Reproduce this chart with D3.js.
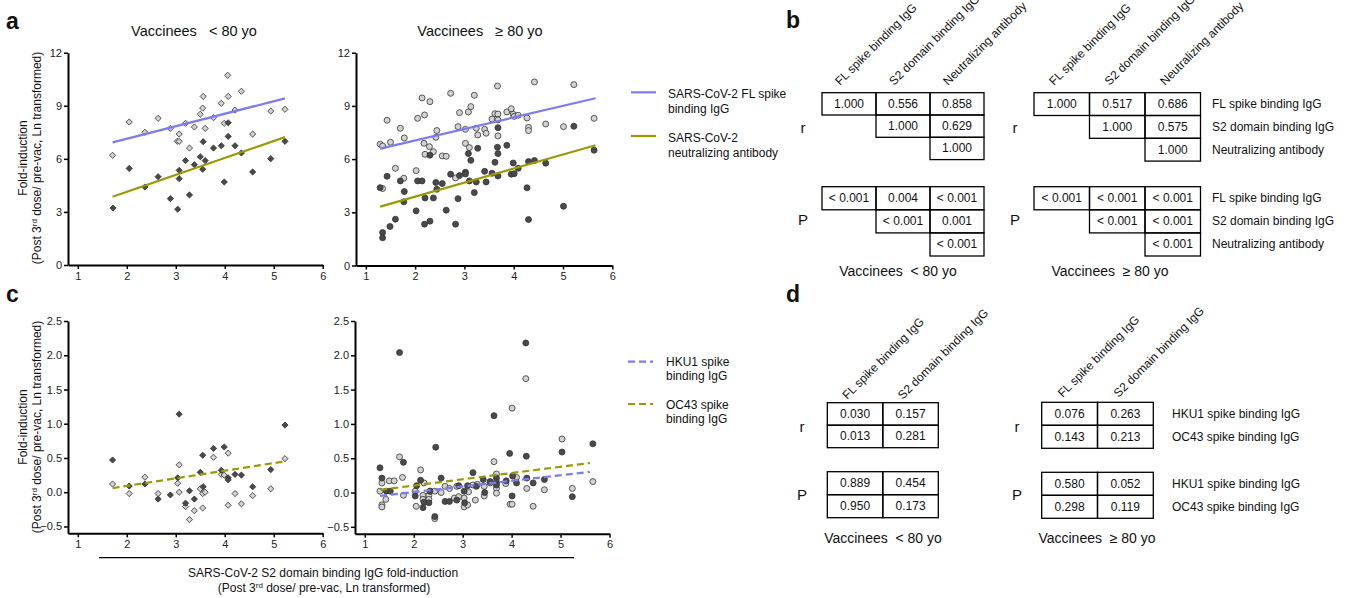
<!DOCTYPE html>
<head>
  <meta charset="utf-8">
  <script src="https://d3js.org/d3.v7.min.js"></script>
  <style>
    body { margin:0; background:#fff; }
    svg { font-family: "Liberation Sans", Arial, sans-serif; }
    text { white-space: pre; }
    .axis .domain { stroke:#000; stroke-width:2; }
    .axis .tick line { stroke:#000; stroke-width:1.5; }
    .axis .tick text { font-size:11px; fill:#222; font-family:"Liberation Sans", Arial, sans-serif; }
  </style>
</head>
<body>
  <svg width="1353" height="598"></svg>
  <script>
    var xTicks = [1, 2, 3, 4, 5, 6];
    var yTicksA = [0, 3, 6, 9, 12];
    var yTicksC = [-0.5, 0, 0.5, 1, 1.5, 2, 2.5];

    // panel a, vaccinees < 80 (x = S2 fold-induction)
    var youngFL = [[1.71,6.20],[2.05,8.08],[2.37,7.50],[2.64,8.29],[2.89,7.72],[3.07,7.40],[3.03,6.99],[3.07,6.99],[3.20,8.01],[3.28,6.61],[3.38,7.80],[3.50,8.52],[3.55,8.87],[3.56,9.53],[3.60,7.72],[3.77,8.33],[3.93,9.14],[3.99,8.01],[4.07,9.53],[4.06,10.72],[4.21,8.76],[4.34,9.82],[4.57,7.40],[4.94,8.70],[5.23,8.80]];
    var youngNeut = [[1.72,3.22],[2.05,5.46],[2.37,4.41],[2.64,4.99],[2.89,3.75],[3.04,3.15],[3.07,4.88],[3.07,5.35],[3.20,5.90],[3.28,3.96],[3.38,5.67],[3.50,6.12],[3.56,6.97],[3.55,5.41],[3.60,5.90],[3.77,6.61],[3.93,6.74],[3.99,4.69],[4.07,8.04],[4.07,7.27],[4.21,6.74],[4.34,6.33],[4.57,5.26],[4.94,6.01],[5.23,6.99]];
    // panel a, vaccinees >= 80
    var oldFL = [[1.29,6.84],[1.34,6.74],[1.43,8.19],[1.50,6.95],[1.34,4.34],[1.60,5.48],[1.70,7.74],[1.78,7.19],[1.77,4.92],[2.02,5.35],[2.05,8.30],[2.14,9.45],[2.19,8.49],[2.18,6.89],[2.20,6.27],[2.30,9.24],[2.29,6.70],[2.37,6.42],[2.42,7.23],[2.44,7.61],[2.55,6.18],[2.63,6.16],[2.72,9.71],[2.82,4.94],[2.87,7.83],[2.90,8.62],[3.02,7.68],[3.02,6.89],[3.08,8.66],[3.10,6.65],[3.13,8.96],[3.20,9.60],[3.24,7.74],[3.27,7.36],[3.41,7.68],[3.44,7.46],[3.56,8.26],[3.62,8.56],[3.67,10.12],[3.68,8.54],[3.68,8.21],[3.68,7.31],[3.86,8.66],[3.95,8.84],[3.99,8.53],[4.01,8.41],[4.09,8.47],[4.27,8.32],[4.30,7.79],[4.30,7.61],[4.42,10.35],[4.65,7.98],[5.01,7.83],[5.22,10.20],[5.63,8.30]];
    var oldNeut = [[1.29,4.39],[1.34,1.86],[1.34,1.56],[1.43,5.03],[1.49,2.20],[1.60,2.61],[1.70,4.77],[1.78,4.17],[1.77,3.59],[2.02,3.08],[2.05,4.77],[2.14,4.77],[2.19,2.33],[2.20,3.81],[2.30,2.50],[2.30,6.22],[2.37,3.81],[2.42,4.68],[2.44,4.30],[2.55,4.62],[2.63,3.12],[2.72,5.15],[2.82,2.33],[2.87,3.77],[2.90,5.07],[3.02,5.26],[3.02,5.16],[3.08,6.31],[3.10,4.77],[3.13,5.93],[3.20,4.11],[3.24,4.71],[3.27,6.61],[3.41,5.31],[3.44,4.71],[3.56,5.20],[3.62,5.82],[3.67,6.67],[3.68,6.31],[3.68,7.77],[3.68,5.05],[3.86,6.78],[3.95,5.15],[3.99,5.78],[4.01,5.18],[4.09,5.48],[4.27,4.38],[4.30,5.86],[4.30,2.59],[4.42,5.92],[4.65,5.77],[5.01,3.34],[5.22,7.85],[5.63,6.50]];
    // panel c, vaccinees < 80
    var youngHKU1 = [[1.71,0.12],[2.05,-0.02],[2.37,0.22],[2.64,-0.02],[3.07,0.40],[3.04,0.13],[3.07,0.00],[3.20,-0.21],[3.28,-0.40],[3.38,-0.27],[3.50,0.05],[3.55,-0.02],[3.60,0.00],[3.55,-0.23],[3.77,0.51],[3.93,0.26],[3.99,0.25],[4.07,0.57],[4.07,-0.19],[4.21,-0.02],[4.34,-0.17],[4.57,-0.05],[4.94,0.05],[5.23,0.49]];
    var youngOC43 = [[1.71,0.47],[2.05,0.09],[2.37,0.12],[2.64,-0.10],[2.89,-0.04],[3.07,1.14],[3.04,0.21],[3.20,-0.16],[3.28,0.02],[3.38,-0.10],[3.50,0.29],[3.55,0.54],[3.56,0.08],[3.77,0.64],[3.99,0.66],[3.93,0.32],[4.07,0.21],[4.07,0.18],[4.21,0.26],[4.34,0.25],[4.57,0.08],[4.94,0.33],[5.23,0.98]];
    // panel c, vaccinees >= 80
    var oldHKU1 = [[1.31,0.02],[1.35,0.14],[1.35,-0.18],[1.35,-0.21],[1.43,-0.10],[1.50,0.17],[1.60,0.17],[1.71,0.52],[1.77,0.22],[1.79,-0.04],[2.03,0.02],[2.05,-0.20],[2.14,0.33],[2.21,0.14],[2.19,-0.04],[2.19,-0.10],[2.31,-0.04],[2.31,-0.10],[2.34,0.02],[2.43,0.02],[2.43,-0.38],[2.56,0.00],[2.64,0.09],[2.73,0.06],[2.83,-0.08],[2.88,0.09],[2.92,-0.06],[3.03,-0.08],[3.03,-0.21],[3.10,-0.18],[3.12,0.01],[3.21,0.11],[3.26,-0.11],[3.30,0.12],[3.44,-0.05],[3.44,0.09],[3.56,0.14],[3.64,0.45],[3.69,0.27],[3.69,0.06],[3.69,-0.01],[3.88,0.13],[3.97,-0.17],[4.01,1.23],[4.01,-0.17],[4.10,0.22],[4.29,1.66],[4.31,0.06],[4.44,-0.20],[4.67,0.04],[5.03,0.78],[5.24,0.06],[5.66,0.16]];
    var oldOC43 = [[1.31,0.36],[1.35,0.21],[1.44,0.02],[1.52,0.02],[1.71,2.04],[1.79,0.44],[2.03,-0.05],[2.06,0.10],[2.14,0.18],[2.19,-0.22],[2.21,-0.14],[2.31,-0.15],[2.33,0.02],[2.45,0.66],[2.43,-0.35],[2.56,0.21],[2.64,-0.13],[2.73,-0.13],[2.88,-0.11],[2.92,0.10],[3.03,0.02],[3.04,-0.15],[3.10,0.10],[3.21,0.29],[3.28,0.09],[3.42,0.19],[3.45,0.00],[3.56,0.16],[3.64,1.12],[3.69,0.21],[3.69,0.15],[3.69,0.11],[3.96,0.57],[3.89,0.17],[4.01,-0.05],[4.02,0.24],[4.10,0.14],[4.29,2.18],[4.30,0.53],[4.31,0.21],[4.44,0.14],[4.67,0.19],[5.03,0.59],[5.24,-0.06],[5.66,0.71]];

    // regression line end points
    var fitYoungFL = [[1.71,6.93],[5.23,9.42]];
    var fitYoungNeut = [[1.71,3.86],[5.23,7.23]];
    var fitOldFL = [[1.29,6.59],[5.66,9.43]];
    var fitOldNeut = [[1.29,3.32],[5.66,6.78]];
    var fitYoungOC43 = [[1.71,0.06],[5.23,0.45]];
    var fitOldHKU1 = [[1.31,-0.05],[5.60,0.30]];
    var fitOldOC43 = [[1.32,0.04],[5.60,0.43]];

    // correlation tables
    var bColLabels = ['FL spike binding IgG', 'S2 domain binding IgG', 'Neutralizing antibody'];
    var bYoungR = [['1.000','0.556','0.858'],[null,'1.000','0.629'],[null,null,'1.000']];
    var bYoungP = [['< 0.001','0.004','< 0.001'],[null,'< 0.001','0.001'],[null,null,'< 0.001']];
    var bOldR = [['1.000','0.517','0.686'],[null,'1.000','0.575'],[null,null,'1.000']];
    var bOldP = [['< 0.001','< 0.001','< 0.001'],[null,'< 0.001','< 0.001'],[null,null,'< 0.001']];
    var dColLabels = ['FL spike binding IgG', 'S2 domain binding IgG'];
    var dRowLabels = ['HKU1 spike binding IgG', 'OC43 spike binding IgG'];
    var dYoungR = [['0.030','0.157'],['0.013','0.281']];
    var dYoungP = [['0.889','0.454'],['0.950','0.173']];
    var dOldR = [['0.076','0.263'],['0.143','0.213']];
    var dOldP = [['0.580','0.052'],['0.298','0.119']];

    var blue = '#7b7cf4', olive = '#9a9a00';
    var lightFill = '#d2d2d2', darkFill = '#4a4a4a';

    var svg = d3.select('svg');

    function label(x, y, str, size, opts) {
      opts = opts || {};
      return svg.append('text')
        .attr('x', x).attr('y', y)
        .attr('font-size', size)
        .attr('font-weight', opts.bold ? 'bold' : null)
        .attr('text-anchor', opts.anchor || 'start')
        .attr('dominant-baseline', opts.baseline || null)
        .attr('fill', '#111')
        .text(str);
    }

    // text with a superscript "rd"
    function postLabel(g, x, y, anchor, rotate) {
      var t = g.append('text')
        .attr('x', x).attr('y', y)
        .attr('font-size', 12)
        .attr('fill', '#111')
        .attr('text-anchor', anchor);
      if (rotate) t.attr('transform', 'rotate(-90,' + x + ',' + y + ')');
      t.append('tspan').text('(Post 3');
      t.append('tspan').attr('dy', -4).attr('font-size', 8).text('rd');
      t.append('tspan').attr('dy', 4).text(' dose/ pre-vac, Ln transformed)');
    }

    function scatter(cfg) {
      var x = d3.scaleLinear().domain([0.8, 6]).range(cfg.xr);
      var y = d3.scaleLinear().domain(cfg.yd).range(cfg.yr);
      var g = svg.append('g');

      g.append('g').attr('class', 'axis')
        .attr('transform', 'translate(0,' + cfg.yr[0] + ')')
        .call(d3.axisBottom(x).tickValues(xTicks).tickSize(4).tickSizeOuter(0).tickPadding(3)
          .tickFormat(d3.format('d')));
      g.append('g').attr('class', 'axis')
        .attr('transform', 'translate(' + cfg.xr[0] + ',0)')
        .call(d3.axisLeft(y).tickValues(cfg.yTicks).tickSize(4).tickSizeOuter(0).tickPadding(2)
          .tickFormat(cfg.fmt));

      cfg.series.forEach(function(s) {
        var sel = g.append('g').selectAll('path').data(s.data).enter();
        if (s.shape === 'diamond') {
          sel.append('path')
            .attr('d', d3.symbol().type(d3.symbolSquare).size(19))
            .attr('transform', function(d) { return 'translate(' + x(d[0]) + ',' + y(d[1]) + ') rotate(45)'; })
            .attr('fill', s.fill).attr('stroke', '#333').attr('stroke-width', 0.8);
        } else {
          sel.append('circle')
            .attr('cx', function(d) { return x(d[0]); })
            .attr('cy', function(d) { return y(d[1]); })
            .attr('r', 3)
            .attr('fill', s.fill).attr('stroke', '#333').attr('stroke-width', 0.8);
        }
      });

      var line = d3.line().x(function(d) { return x(d[0]); }).y(function(d) { return y(d[1]); });
      cfg.fits.forEach(function(f) {
        g.append('path').attr('d', line(f.data))
          .attr('fill', 'none').attr('stroke', f.color).attr('stroke-width', 2.2)
          .attr('stroke-dasharray', f.dash ? '7,4' : null);
      });
    }

    var fmtInt = d3.format('d'), fmt1 = d3.format('.1f');

    scatter({ xr: [68, 322.7], yr: [265, 52.7], yd: [0, 12], yTicks: yTicksA, fmt: fmtInt,
      series: [{ data: youngFL, shape: 'diamond', fill: lightFill }, { data: youngNeut, shape: 'diamond', fill: darkFill }],
      fits: [{ data: fitYoungFL, color: blue }, { data: fitYoungNeut, color: olive }] });
    scatter({ xr: [356, 612.3], yr: [265.5, 52.7], yd: [0, 12], yTicks: yTicksA, fmt: fmtInt,
      series: [{ data: oldFL, shape: 'circle', fill: lightFill }, { data: oldNeut, shape: 'circle', fill: darkFill }],
      fits: [{ data: fitOldFL, color: blue }, { data: fitOldNeut, color: olive }] });
    scatter({ xr: [68, 322.7], yr: [533.3, 321], yd: [-0.6, 2.5], yTicks: yTicksC, fmt: fmt1,
      series: [{ data: youngHKU1, shape: 'diamond', fill: lightFill }, { data: youngOC43, shape: 'diamond', fill: darkFill }],
      fits: [{ data: fitYoungOC43, color: olive, dash: true }] });
    scatter({ xr: [355, 609.5], yr: [533.7, 321], yd: [-0.6, 2.5], yTicks: yTicksC, fmt: fmt1,
      series: [{ data: oldHKU1, shape: 'circle', fill: lightFill }, { data: oldOC43, shape: 'circle', fill: darkFill }],
      fits: [{ data: fitOldHKU1, color: blue, dash: true }, { data: fitOldOC43, color: olive, dash: true }] });

    // panel letters
    label(6, 29, 'a', 23, { bold: true });
    label(6, 302, 'c', 23, { bold: true });
    label(786, 28, 'b', 23, { bold: true });
    label(786, 302, 'd', 23, { bold: true });

    // titles
    label(194, 36, 'Vaccinees   < 80 yo', 14.5, { anchor: 'middle' });
    label(480, 36, 'Vaccinees   \u2265 80 yo', 14.5, { anchor: 'middle' });

    // y labels
    [[158, 27, 41], [427, 27, 41]].forEach(function(p) {
      svg.append('text').attr('x', p[1]).attr('y', p[0])
        .attr('transform', 'rotate(-90,' + p[1] + ',' + p[0] + ')')
        .attr('font-size', 12).attr('fill', '#111').attr('text-anchor', 'middle')
        .text('Fold-induction');
      postLabel(svg, p[2], p[0], 'middle', true);
    });

    // shared x label under panel c
    svg.append('line').attr('x1', 99).attr('x2', 574).attr('y1', 557.7).attr('y2', 557.7)
      .attr('stroke', '#000').attr('stroke-width', 1.3);
    label(323, 577, 'SARS-CoV-2 S2 domain binding IgG fold-induction', 12, { anchor: 'middle' });
    postLabel(svg, 324, 592, 'middle', false);

    // legends
    function legendItem(y, color, dash, lines, x1, x2, tx, ty, lh) {
      svg.append('line').attr('x1', x1).attr('x2', x2).attr('y1', y).attr('y2', y)
        .attr('stroke', color).attr('stroke-width', 2.2).attr('stroke-dasharray', dash ? '7,4' : null);
      lines.forEach(function(s, i) { label(tx, ty + i * lh, s, 12); });
    }
    legendItem(92.3, blue, false, ['SARS-CoV-2 FL spike', 'binding IgG'], 631, 656, 668, 98, 15);
    legendItem(136, olive, false, ['SARS-CoV-2', 'neutralizing antibody'], 631, 656, 668, 141.5, 15);
    legendItem(361.7, blue, true, ['HKU1 spike', 'binding IgG'], 628, 653, 666, 366, 14);
    legendItem(404, olive, true, ['OC43 spike', 'binding IgG'], 628, 653, 666, 409, 14);

    // tables
    function table(cells, x0, colW, y0, rowH) {
      var nR = cells.length, nC = cells[0].length;
      var xb = d3.scaleBand().domain(d3.range(nC)).range([x0, x0 + colW * nC]);
      var yb = d3.scaleBand().domain(d3.range(nR)).range([y0, y0 + rowH * nR]);
      var g = svg.append('g');
      cells.forEach(function(row, i) {
        row.forEach(function(v, j) {
          if (v == null) return;
          g.append('rect').attr('x', xb(j)).attr('y', yb(i))
            .attr('width', xb.bandwidth()).attr('height', yb.bandwidth())
            .attr('fill', 'none').attr('stroke', '#000').attr('stroke-width', 1.3);
          g.append('text').attr('x', xb(j) + xb.bandwidth() / 2).attr('y', yb(i) + yb.bandwidth() / 2)
            .attr('text-anchor', 'middle').attr('dominant-baseline', 'central')
            .attr('font-size', 12).attr('fill', '#111').text(v);
        });
      });
      return { xb: xb, yb: yb };
    }
    function colHeads(labels, xb, y, off) {
      labels.forEach(function(s, j) {
        var x = xb(j) + off;
        svg.append('text').attr('x', x).attr('y', y)
          .attr('transform', 'rotate(-45,' + x + ',' + y + ')')
          .attr('font-size', 12).attr('fill', '#111').text(s);
      });
    }
    function rowHeads(labels, yb, x) {
      labels.forEach(function(s, i) {
        label(x, yb(i) + yb.bandwidth() / 2, s, 12, { baseline: 'central' });
      });
    }

    // panel b
    var t1 = table(bYoungR, 822, 54, 92.7, 22.3);
    table(bYoungP, 822, 54, 186.7, 23.1);
    colHeads(bColLabels, t1.xb, 86, 18);
    label(803, 127, 'r', 15, { anchor: 'middle', baseline: 'central' });
    label(803, 219, 'P', 15, { anchor: 'middle', baseline: 'central' });
    label(898, 276, 'Vaccinees  < 80 yo', 14, { anchor: 'middle' });

    var t2 = table(bOldR, 1034, 55.5, 92.7, 22.8);
    var t3 = table(bOldP, 1034, 55.5, 186.7, 23.1);
    colHeads(bColLabels, t2.xb, 86, 20);
    rowHeads(bColLabels, t2.yb, 1212);
    rowHeads(bColLabels, t3.yb, 1212);
    label(1015, 127, 'r', 15, { anchor: 'middle', baseline: 'central' });
    label(1015, 219, 'P', 15, { anchor: 'middle', baseline: 'central' });
    label(1110, 276, 'Vaccinees  \u2265 80 yo', 14, { anchor: 'middle' });

    // panel d
    var t4 = table(dYoungR, 827.3, 55.5, 402.7, 22.5);
    table(dYoungP, 827.3, 55.5, 471.7, 23);
    colHeads(dColLabels, t4.xb, 400, 20);
    label(802, 426, 'r', 15, { anchor: 'middle', baseline: 'central' });
    label(802, 494, 'P', 15, { anchor: 'middle', baseline: 'central' });
    label(883, 543, 'Vaccinees  < 80 yo', 14, { anchor: 'middle' });

    var t5 = table(dOldR, 1041.7, 55.8, 402.3, 23);
    var t6 = table(dOldP, 1041.7, 55.8, 472.3, 23);
    colHeads(dColLabels, t5.xb, 398, 21);
    rowHeads(dRowLabels, t5.yb, 1172);
    rowHeads(dRowLabels, t6.yb, 1172);
    label(1017, 426, 'r', 15, { anchor: 'middle', baseline: 'central' });
    label(1017, 494, 'P', 15, { anchor: 'middle', baseline: 'central' });
    label(1097, 543, 'Vaccinees  \u2265 80 yo', 14, { anchor: 'middle' });
  </script>
</body>
